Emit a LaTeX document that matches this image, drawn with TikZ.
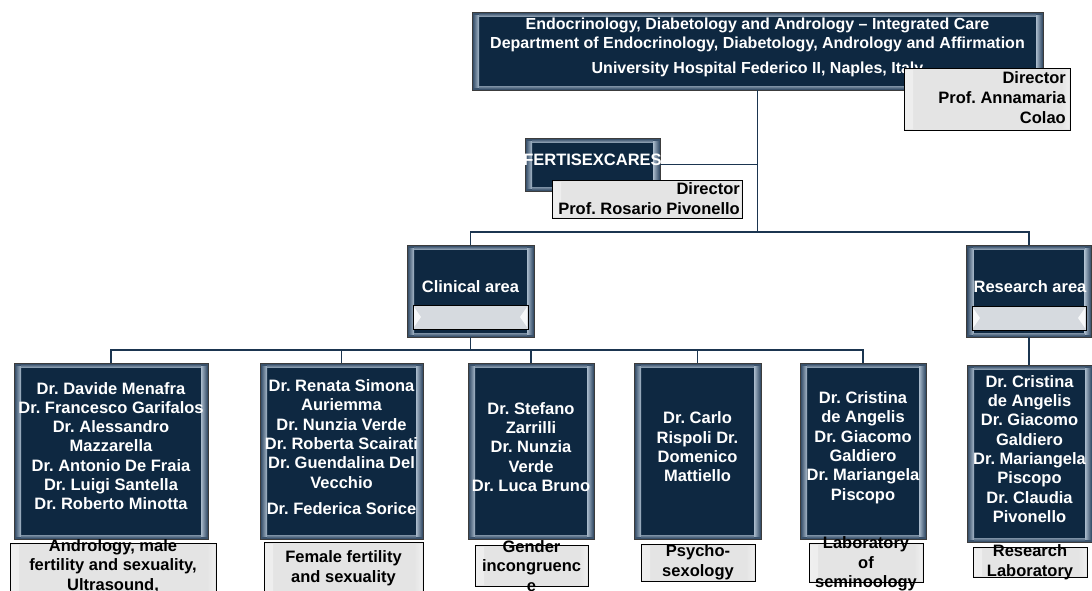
\documentclass[tikz,border=0pt]{standalone}
\usepackage{fontspec}
\setmainfont{Liberation Sans}
\usetikzlibrary{calc}
\frenchspacing
\definecolor{navy}{HTML}{0E2841}
\definecolor{bevelbase}{HTML}{3A526C}
\definecolor{bevelhi}{HTML}{A9BACB}
\definecolor{boxborder}{HTML}{3C3C3C}
\definecolor{lgray}{HTML}{E4E4E4}
\definecolor{bargray}{HTML}{D6DADF}
\definecolor{connc}{HTML}{1B3550}
\tikzset{
  navybox/.style={draw=boxborder, line width=0.9pt, fill=bevelbase, inner sep=0pt,
    path picture={
      \fill[navy] ([xshift=7pt,yshift=-4pt]path picture bounding box.north west) rectangle ([xshift=-7pt,yshift=4pt]path picture bounding box.south east);
      \shade[left color=bevelbase, right color=bevelhi] ([xshift=1pt,yshift=-3pt]path picture bounding box.north west) rectangle ([xshift=7pt,yshift=3pt]path picture bounding box.south west);
      \shade[left color=bevelhi, right color=bevelbase] ([xshift=-7pt,yshift=-3pt]path picture bounding box.north east) rectangle ([xshift=-1pt,yshift=3pt]path picture bounding box.south east);
      \shade[top color=bevelbase, bottom color=bevelhi!70!bevelbase] ([xshift=7pt,yshift=-1pt]path picture bounding box.north west) rectangle ([xshift=-7pt,yshift=-4pt]path picture bounding box.north east);
      \shade[top color=bevelhi!60!bevelbase, bottom color=bevelbase] ([xshift=7pt,yshift=4pt]path picture bounding box.south west) rectangle ([xshift=-7pt,yshift=1pt]path picture bounding box.south east);
    }},
  graybox/.style={draw=black, line width=1pt, fill=lgray, inner sep=0pt,
    path picture={
      \shade[left color=lgray!60!white, right color=lgray] ([xshift=1pt,yshift=-2pt]path picture bounding box.north west) rectangle ([xshift=9pt,yshift=2pt]path picture bounding box.south west);
      \shade[left color=lgray, right color=lgray!60!white] ([xshift=-9pt,yshift=-2pt]path picture bounding box.north east) rectangle ([xshift=-1pt,yshift=2pt]path picture bounding box.south east);
    }},
  barbox/.style={draw=black, line width=1pt, fill=bargray, inner sep=0pt,
    path picture={
      \fill[white!80!bargray] ([xshift=1pt,yshift=-2pt]path picture bounding box.north west) -- ([xshift=8pt]path picture bounding box.west) -- ([xshift=1pt,yshift=2pt]path picture bounding box.south west) -- cycle;
      \fill[white!80!bargray] ([xshift=-1pt,yshift=-2pt]path picture bounding box.north east) -- ([xshift=-8pt]path picture bounding box.east) -- ([xshift=-1pt,yshift=2pt]path picture bounding box.south east) -- cycle;
    }},
  wtext/.style={text=white, font=\frenchspacing\bfseries\fontsize{16.5}{19.3}\selectfont, align=center, inner sep=0pt},
  btext/.style={text=black, font=\frenchspacing\bfseries\fontsize{16.5}{19.6}\selectfont, align=center, inner sep=0pt},
  rtext/.style={text=black, font=\frenchspacing\bfseries\fontsize{16.5}{20}\selectfont, align=right, inner sep=0pt, anchor=east},
  conn/.style={draw=connc, line width=1.5pt},
}
\begin{document}
\begin{tikzpicture}[x=1pt,y=-1pt]
\useasboundingbox (0,0) rectangle (1092,590);
\clip (0,0) rectangle (1092,590);
\fill[white] (0,0) rectangle (1092,590);

% coordinates of buses
\coordinate (busA) at (0,232);
\coordinate (busB) at (0,350);

% top level
\node[navybox, minimum width=571pt, minimum height=78pt] (top) at (757.5,51) {};
\node[wtext, font=\frenchspacing\bfseries\fontsize{16}{19}\selectfont] (toptext) at (757.5,47) {Endocrinology, Diabetology and Andrology -- Integrated Care\\Department of Endocrinology, Diabetology, Andrology and Affirmation\\[6pt]University Hospital Federico II, Naples, Italy};
\node[graybox, minimum width=166pt, minimum height=62pt] (dir1) at (987,99) {};
\node[rtext] (dir1text) at (1066,98) {Director\\Prof. Annamaria\\Colao};

% FERTISEXCARES
\node[navybox, minimum width=135pt, minimum height=53pt] (fert) at (592.5,164.5) {};
\node[wtext] (ferttext) at (592.5,160) {FERTISEXCARES};
\node[graybox, minimum width=190pt, minimum height=38pt] (dir2) at (647,199) {};
\node[rtext] (dir2text) at (740,198.5) {Director\\Prof. Rosario Pivonello};

% areas
\node[navybox, minimum width=127pt, minimum height=92pt] (clin) at (470.5,291) {};
\node[wtext] (clintext) at (470.5,287) {Clinical area};
\node[barbox, minimum width=115pt, minimum height=24pt] (clinbar) at (470.5,317) {};
\node[navybox, minimum width=125pt, minimum height=92pt] (res) at (1029,291) {};
\node[wtext] (restext) at (1030,287) {Research area};
\node[barbox, minimum width=114pt, minimum height=24pt] (resbar) at (1029,318) {};

% columns
\node[navybox, minimum width=194pt, minimum height=176pt] (c1) at (111,451) {};
\node[wtext] (c1text) at (111,446) {Dr. Davide Menafra\\Dr. Francesco Garifalos\\Dr. Alessandro\\Mazzarella\\Dr. Antonio De Fraia\\Dr. Luigi Santella\\Dr. Roberto Minotta};
\node[navybox, minimum width=163pt, minimum height=176pt] (c2) at (341.5,451) {};
\node[wtext] (c2text) at (341.5,447) {Dr. Renata Simona\\Auriemma\\Dr. Nunzia Verde\\Dr. Roberta Scairati\\Dr. Guendalina Del\\Vecchio\\[7pt]Dr. Federica Sorice};
\node[navybox, minimum width=126pt, minimum height=176pt] (c3) at (531,451) {};
\node[wtext] (c3text) at (531,447) {Dr. Stefano\\Zarrilli\\Dr. Nunzia\\Verde\\Dr. Luca Bruno};
\node[navybox, minimum width=127pt, minimum height=176pt] (c4) at (697.5,451) {};
\node[wtext] (c4text) at (697.5,447) {Dr. Carlo\\Rispoli Dr.\\Domenico\\Mattiello};
\node[navybox, minimum width=126pt, minimum height=176pt] (c5) at (863,451) {};
\node[wtext] (c5text) at (863,447.5) {Dr. Cristina\\de Angelis\\Dr. Giacomo\\Galdiero\\Dr. Mariangela\\Piscopo};
\node[navybox, minimum width=125pt, minimum height=177pt] (c6) at (1029.5,453.5) {};
\node[wtext] (c6text) at (1029.5,449) {Dr. Cristina\\de Angelis\\Dr. Giacomo\\Galdiero\\Dr. Mariangela\\Piscopo\\Dr. Claudia\\Pivonello};

% labels
\node[graybox, minimum width=206pt, minimum height=67pt] (l1) at (113,576.5) {};
\node[btext] (l1text) at (113,566) {Andrology, male\\fertility and sexuality,\\Ultrasound,};
\node[graybox, minimum width=159pt, minimum height=68pt] (l2) at (343.5,576) {};
\node[btext] (l2text) at (343.5,568) {Female fertility\\and sexuality};
\node[graybox, minimum width=113pt, minimum height=41pt] (l3) at (531.5,565.5) {};
\node[btext] (l3text) at (531.5,566) {Gender\\incongruenc\\e};
\node[graybox, minimum width=114pt, minimum height=37pt] (l4) at (698,562.5) {};
\node[btext] (l4text) at (698,562.5) {Psycho-\\sexology};
\node[graybox, minimum width=114pt, minimum height=39pt] (l5) at (866,562.5) {};
\node[btext] (l5text) at (866,564) {Laboratory\\of\\seminoology};
\node[graybox, minimum width=114pt, minimum height=30pt] (l6) at (1030,562) {};
\node[btext] (l6text) at (1030,562.5) {Research\\Laboratory};

% connectors
\draw[conn] (top.south) -- (top.south |- busA);
\draw[conn] (fert.east) -- (fert.east -| top.south);
\draw[conn] (clin.north) -- (clin.north |- busA) -- (res.north |- busA) -- (res.north);
\draw[conn] (clin.south) -- (clin.south |- busB);
\draw[conn] (c1.north) -- (c1.north |- busB) -- (c5.north |- busB) -- (c5.north);
\draw[conn] (c2.north) -- (c2.north |- busB);
\draw[conn] (c3.north) -- (c3.north |- busB);
\draw[conn] (c4.north) -- (c4.north |- busB);
\draw[conn] (res.south) -- (res.south |- c6.north);
\end{tikzpicture}
\end{document}
